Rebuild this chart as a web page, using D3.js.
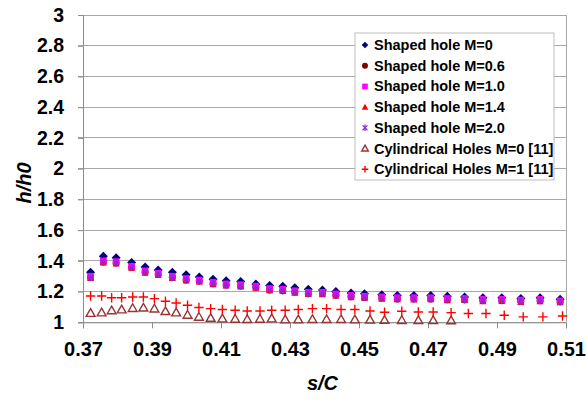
<!DOCTYPE html>
<html><head><meta charset="utf-8">
<script src="https://cdn.jsdelivr.net/npm/d3@7"></script>
<style>
html,body{margin:0;padding:0;background:#fff;}
svg{display:block;font-family:Arial,"Liberation Sans",sans-serif;}
</style></head>
<body><svg id="chart" width="587" height="400"></svg>
<script>
// ---- data ----
const xTicks = [0.37,0.39,0.41,0.43,0.45,0.47,0.49,0.51];
const xTickLabels = ["0.37","0.39","0.41","0.43","0.45","0.47","0.49","0.51"];
const yTicks = [1,1.2,1.4,1.6,1.8,2,2.2,2.4,2.6,2.8,3];
const yTickLabels = ["1","1.2","1.4","1.6","1.8","2","2.2","2.4","2.6","2.8","3"];

const xShaped = [0.3722,0.3759,0.3796,0.3841,0.3880,0.3918,0.3959,0.3999,0.4037,0.4077,0.4115,0.4157,0.4201,0.4241,0.4279,0.4314,0.4353,0.4394,0.4433,0.4477,0.4516,0.4566,0.4611,0.4659,0.4708,0.4756,0.4806,0.4859,0.4914,0.4969,0.5025,0.5083];
const shapedM0  = [1.325,1.430,1.420,1.390,1.360,1.340,1.325,1.310,1.295,1.280,1.270,1.265,1.250,1.240,1.235,1.225,1.215,1.210,1.200,1.190,1.185,1.180,1.175,1.175,1.175,1.170,1.165,1.160,1.160,1.155,1.160,1.150];
const shapedM06 = [1.292,1.393,1.386,1.356,1.328,1.311,1.293,1.276,1.268,1.251,1.243,1.236,1.228,1.211,1.206,1.198,1.186,1.188,1.176,1.168,1.161,1.158,1.151,1.153,1.151,1.148,1.146,1.143,1.141,1.138,1.141,1.133];
const shapedM10 = [1.300,1.400,1.395,1.365,1.335,1.320,1.300,1.285,1.275,1.260,1.250,1.245,1.235,1.220,1.215,1.205,1.195,1.195,1.185,1.175,1.170,1.165,1.160,1.160,1.160,1.155,1.155,1.150,1.150,1.145,1.150,1.140];
const shapedM14 = [1.287,1.389,1.382,1.354,1.322,1.309,1.287,1.272,1.264,1.247,1.239,1.232,1.224,1.207,1.204,1.192,1.184,1.182,1.174,1.162,1.159,1.152,1.149,1.147,1.149,1.142,1.144,1.137,1.139,1.132,1.137,1.129];
const shapedM20 = [1.291,1.392,1.388,1.358,1.326,1.312,1.291,1.276,1.266,1.252,1.241,1.236,1.226,1.211,1.205,1.196,1.187,1.186,1.177,1.166,1.162,1.156,1.152,1.151,1.152,1.146,1.147,1.141,1.142,1.136,1.141,1.132];

const xCyl = [0.3722,0.3754,0.3783,0.3812,0.3844,0.3875,0.3907,0.3939,0.3970,0.4003,0.4036,0.4070,0.4104,0.4141,0.4176,0.4213,0.4247,0.4286,0.4324,0.4365,0.4406,0.4448,0.4488,0.4532,0.4574,0.4624,0.4672,0.4715,0.4767,0.4817,0.4868,0.4921,0.4976,0.5033,0.5090];
const cylM0 = [1.060,1.063,1.077,1.083,1.092,1.095,1.089,1.072,1.063,1.048,1.035,1.028,1.024,1.022,1.020,1.022,1.024,1.018,1.018,1.020,1.020,1.020,1.018,1.016,1.015,1.014,1.013,1.013,1.012];
const cylM1 = [1.171,1.171,1.160,1.160,1.165,1.165,1.154,1.137,1.126,1.111,1.096,1.089,1.083,1.078,1.074,1.074,1.078,1.078,1.083,1.089,1.089,1.083,1.083,1.074,1.065,1.072,1.067,1.067,1.063,1.057,1.057,1.046,1.035,1.035,1.041];

const seriesNames = ["Shaped hole M=0","Shaped hole M=0.6","Shaped hole M=1.0","Shaped hole M=1.4","Shaped hole M=2.0","Cylindrical Holes M=0 [11]","Cylindrical Holes M=1 [11]"];
const seriesColors = ["#000080","#800000","#ff00ff","#ff0000","#8a2be2","#993333","#ff0000"];
const seriesMarkers = ["diamond","circle","square","triangle","star","opentri","plus"];

// ---- layout ----
const svg = d3.select("#chart");
const L = 83, R = 566, T = 15, B = 322.3;
const x = d3.scaleLinear().domain([0.37,0.51]).range([L,R]);
const y = d3.scaleLinear().domain([1,3]).range([B,T]);
const gridColor = "#a8a8a8";

// gridlines
svg.append("g").selectAll("line").data(yTicks).join("line")
  .attr("x1",L-5).attr("x2",R).attr("y1",d=>y(d)).attr("y2",d=>y(d))
  .attr("stroke",gridColor).attr("stroke-width",1).attr("shape-rendering","crispEdges");
// right border
svg.append("line").attr("x1",R).attr("x2",R).attr("y1",T).attr("y2",B)
  .attr("stroke",gridColor).attr("shape-rendering","crispEdges");

// axes
const xAxis = d3.axisBottom(x).tickValues(xTicks).tickFormat((d,i)=>xTickLabels[i]).tickSize(6).tickPadding(14);
const gx = svg.append("g").attr("transform",`translate(0,${B})`).call(xAxis);
gx.select(".domain").attr("stroke","#8c8c8c");
gx.selectAll(".tick line").attr("stroke","#8c8c8c");
gx.selectAll("text").attr("font-size",20).attr("font-weight","bold").attr("fill","#000")
  .attr("font-family",'Arial,"Liberation Sans",sans-serif');

const yAxis = d3.axisLeft(y).tickValues(yTicks).tickFormat((d,i)=>yTickLabels[i]).tickSize(5).tickPadding(14);
const gy = svg.append("g").attr("transform",`translate(${L},0)`).call(yAxis);
gy.select(".domain").attr("stroke","#8c8c8c");
gy.selectAll(".tick line").attr("stroke","#8c8c8c");
gy.selectAll("text").attr("font-size",19.5).attr("font-weight","bold").attr("fill","#000")
  .attr("font-family",'Arial,"Liberation Sans",sans-serif');

// axis titles
svg.append("text").attr("x",(L+R)/2 - 2).attr("y",390).attr("text-anchor","middle")
  .attr("font-size",20).attr("font-weight","bold").attr("font-style","italic").text("s/C");
svg.append("text").attr("transform","translate(31,183) rotate(-90)").attr("text-anchor","middle")
  .attr("font-size",20).attr("font-weight","bold").attr("font-style","italic").text("h/h0");

// marker drawing
function drawMarker(g, type, color, s) {
  switch(type){
    case "diamond":
      g.append("path").attr("d",`M0,${-s}L${s},0L0,${s}L${-s},0Z`).attr("fill",color); break;
    case "circle":
      g.append("circle").attr("r",s*0.9).attr("fill",color); break;
    case "square":
      g.append("rect").attr("x",-s*0.85).attr("y",-s*0.85).attr("width",s*1.7).attr("height",s*1.7).attr("fill",color); break;
    case "triangle":
      g.append("path").attr("d",`M0,${-s}L${s},${s*0.8}L${-s},${s*0.8}Z`).attr("fill",color); break;
    case "star":
      g.append("path").attr("d",`M${-s*0.75},${-s*0.75}L${s*0.75},${s*0.75}M${-s*0.75},${s*0.75}L${s*0.75},${-s*0.75}M0,${-s}L0,${s}`)
        .attr("stroke",color).attr("stroke-width",1.2).attr("fill","none"); break;
    case "opentri":
      g.append("path").attr("d",`M0,${-s}L${s},${s*0.75}L${-s},${s*0.75}Z`)
        .attr("stroke",color).attr("stroke-width",1.4).attr("fill","none"); break;
    case "plus":
      g.append("path").attr("d",`M${-s},0L${s},0M0,${-s}L0,${s}`)
        .attr("stroke",color).attr("stroke-width",1.4).attr("fill","none"); break;
  }
}

const plotSeries = [
  {xs:xShaped, ys:shapedM0,  k:0, s:4.5},
  {xs:xShaped, ys:shapedM06, k:1, s:3.9},
  {xs:xShaped, ys:shapedM10, k:2, s:3.9},
  {xs:xShaped, ys:shapedM14, k:3, s:3.6},
  {xs:xShaped, ys:shapedM20, k:4, s:3.6},
  {xs:xCyl,    ys:cylM0,     k:5, s:4.4},
  {xs:xCyl,    ys:cylM1,     k:6, s:4.7}
];
plotSeries.forEach(ser=>{
  const g = svg.append("g");
  ser.ys.forEach((v,i)=>{
    const mg = g.append("g").attr("transform",`translate(${x(ser.xs[i])},${y(v)})`);
    drawMarker(mg, seriesMarkers[ser.k], seriesColors[ser.k], ser.s);
  });
});

// legend
const lg = svg.append("g").attr("transform","translate(355,33)");
lg.append("rect").attr("x",0).attr("y",0).attr("width",199).attr("height",147)
  .attr("fill","#fff").attr("stroke","#bdbdbd").attr("stroke-width",1);
seriesNames.forEach((n,i)=>{
  const yy = 12 + i*20.7;
  const mg = lg.append("g").attr("transform",`translate(10,${yy})`);
  drawMarker(mg, seriesMarkers[i], seriesColors[i], 3.3);
  lg.append("text").attr("x",19).attr("y",yy+5).attr("font-size",14.5).attr("font-weight","bold").text(n);
});
</script></body></html>
